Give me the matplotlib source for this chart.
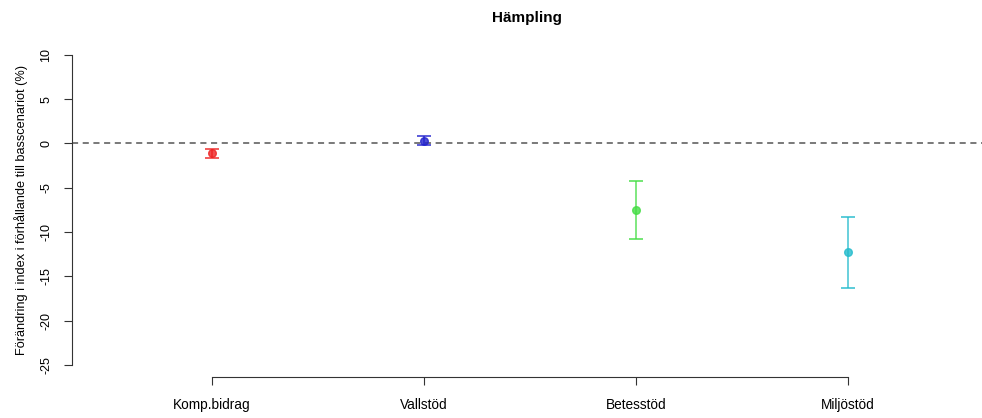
import matplotlib
matplotlib.use("Agg")
import matplotlib.pyplot as plt
import numpy as np

plt.rcParams['font.family'] = ['Liberation Sans', 'DejaVu Sans']

# data
categories = ['Komp.bidrag', 'Vallstöd', 'Betesstöd', 'Miljöstöd']
means = [-1.1, 0.3, -7.5, -12.3]
lower = [-1.6, -0.2, -10.8, -16.3]
upper = [-0.6, 0.8, -4.2, -8.3]
colors = ['#ee2222', '#2222cc', '#44dd44', '#22bbcc']
yticks = [-25, -20, -15, -10, -5, 0, 5, 10]

fig = plt.figure(figsize=(9.82, 4.18), dpi=100)
ax = fig.add_axes([0.0733, 0.0975, 0.933, 0.801])

x = np.arange(1, len(categories) + 1)
for xi, m, lo, hi, c in zip(x, means, lower, upper, colors):
    ax.errorbar(xi, m, yerr=[[m - lo], [hi - m]], fmt='o', color=c,
                ecolor=c, elinewidth=1.2, capsize=5, capthick=1.3,
                markersize=5.5, markerfacecolor=c, markeredgecolor=c,
                alpha=0.8)

ax.axhline(0, color='#555555', linestyle=(0, (4, 3)), linewidth=1.1)

ax.set_xlim(0.34, 4.66)
ax.set_ylim(-26.4, 11.4)

for s in ['top', 'right']:
    ax.spines[s].set_visible(False)
ax.spines['left'].set_bounds(-25, 10)
ax.spines['bottom'].set_bounds(1, 4)
ax.spines['left'].set_color('#333333')
ax.spines['bottom'].set_color('#333333')

ax.set_xticks(x)
ax.set_xticklabels(categories, fontsize=9.8)
ax.set_yticks(yticks)
ax.set_yticklabels([str(t) for t in yticks], fontsize=9, rotation=90,
                   va='center')
ax.tick_params(direction='out', length=6, color='#333333', pad=8)
ax.tick_params(axis='x', pad=9)

ax.set_ylabel('Förändring i index i förhållande till basscenariot (%)',
              fontsize=9.2, labelpad=9)
fig.text(0.537, 0.956, 'Hämpling', ha='center', va='center',
         fontsize=11, fontweight='bold')

fig.savefig('out.png', dpi=100)
